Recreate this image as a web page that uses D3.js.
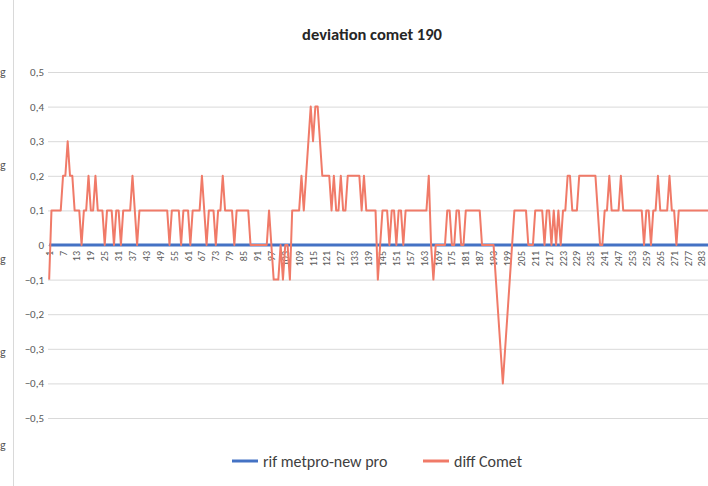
<!DOCTYPE html>
<html>
<head>
<meta charset="utf-8">
<script src="https://cdn.jsdelivr.net/npm/d3@7"></script>
<style>
  body { margin: 0; background: #fff; }
  svg { display: block; font-family: Carlito, Calibri, Lato, "Open Sans", sans-serif; }
</style>
</head>
<body>
<script>
// values
var title = "deviation comet 190";
var seriesNames = ["rif metpro-new pro", "diff Comet"];
var yTicks = [0.5, 0.4, 0.3, 0.2, 0.1, 0, -0.1, -0.2, -0.3, -0.4, -0.5];
var categories = d3.range(1, 287);
var xTickLabels = categories.filter(function(c) { return (c - 1) % 6 === 0; });

var diffComet = [
  -0.1,0.1,0.1,0.1,0.1,0.1,0.2,0.2,0.3,0.2,
  0.2,0.1,0.1,0.1,0,0.1,0.1,0.2,0.1,0.1,
  0.2,0.1,0.1,0.1,0,0.1,0.1,0.1,0,0.1,
  0.1,0,0.1,0.1,0.1,0.1,0.2,0.1,0,0.1,
  0.1,0.1,0.1,0.1,0.1,0.1,0.1,0.1,0.1,0.1,
  0.1,0.1,0,0.1,0.1,0.1,0.1,0,0.1,0.1,
  0.1,0,0.1,0.1,0.1,0.1,0.2,0.1,0,0.1,
  0.1,0.1,0,0.1,0.1,0.2,0.1,0.1,0.1,0.1,
  0,0.1,0.1,0.1,0.1,0.1,0.1,0,0,0,
  0,0,0,0,0,0.1,0,-0.1,-0.1,-0.1,
  0,-0.1,0,0,-0.1,0.1,0.1,0.1,0.1,0.2,
  0.1,0.2,0.3,0.4,0.3,0.4,0.4,0.3,0.2,0.2,
  0.2,0.2,0.1,0.2,0.1,0.1,0.2,0.1,0.1,0.2,
  0.2,0.2,0.2,0.2,0.2,0.1,0.2,0.1,0.1,0.1,
  0.1,0.1,-0.1,0,0.1,0.1,0.1,0,0.1,0.1,
  0,0.1,0.1,0,0.1,0.1,0.1,0.1,0.1,0.1,
  0.1,0.1,0.1,0.1,0.2,0,-0.1,0,0,0,
  0,0,0.1,0.1,0,0,0.1,0.1,0,0,
  0.1,0.1,0.1,0.1,0.1,0.1,0.1,0,0,0,
  0,0,0,-0.1,-0.2,-0.3,-0.4,-0.3,-0.2,-0.1,
  0,0.1,0.1,0.1,0.1,0.1,0.1,0,0,0,
  0.1,0.1,0.1,0.1,0,0.1,0.1,0,0.1,0,
  0.1,0,0.1,0.1,0.2,0.2,0.1,0.1,0.1,0.2,
  0.2,0.2,0.2,0.2,0.2,0.2,0.2,0.1,0,0,
  0.1,0.1,0.2,0.1,0.1,0.1,0.1,0.2,0.1,0.1,
  0.1,0.1,0.1,0.1,0.1,0.1,0.1,0,0.1,0.1,
  0,0.1,0.1,0.2,0.1,0.1,0.1,0.1,0.2,0.1,
  0.1,0,0.1,0.1,0.1,0.1,0.1,0.1,0.1,0.1,
  0.1,0.1,0.1,0.1,0.1,0.1
];
var rifMetpro = categories.map(function() { return 0; });

// leftover labels of the neighbouring chart, cut at the left edge
var sideMarks = ["g", "g", "g", "g", "g"];

var width = 708, height = 486;
var plotLeft = 48, plotRight = 710, plotTop = 72, plotBottom = 418;

var svg = d3.select("body").append("svg")
    .attr("width", width)
    .attr("height", height);

var x = d3.scaleBand()
    .domain(categories)
    .range([plotLeft, plotRight]);

var y = d3.scaleLinear()
    .domain([-0.5, 0.5])
    .range([plotBottom, plotTop]);

function cx(c) { return x(c) + x.bandwidth() / 2; }

// neighbouring chart border + cut labels
svg.append("line")
    .attr("x1", 13.5).attr("x2", 13.5)
    .attr("y1", 0).attr("y2", height)
    .attr("stroke", "#d9d9d9");

var sideScale = d3.scalePoint().domain(d3.range(sideMarks.length)).range([76, 449]);
svg.selectAll(".side")
    .data(sideMarks)
    .enter().append("text")
    .attr("class", "side")
    .attr("x", 0)
    .attr("y", function(d, i) { return sideScale(i); })
    .attr("font-size", 12)
    .attr("fill", "#595959")
    .text(function(d) { return d; });

// title
svg.append("text")
    .attr("x", 372)
    .attr("y", 40)
    .attr("text-anchor", "middle")
    .attr("font-size", 16.5)
    .attr("font-weight", "bold")
    .attr("fill", "#262626")
    .text(title);

// y axis with gridlines
var yAxis = svg.append("g")
    .attr("transform", "translate(" + plotLeft + ",0)")
    .call(d3.axisLeft(y)
        .tickValues(yTicks)
        .tickSize(-(plotRight - plotLeft))
        .tickPadding(4)
        .tickFormat(function(d) { return d3.format("")(Math.round(d * 10) / 10).replace(".", ","); }));
yAxis.select(".domain").remove();
yAxis.selectAll(".tick line").attr("stroke", "#d9d9d9");
yAxis.selectAll(".tick text")
    .attr("font-size", 11)
    .attr("fill", "#595959")
    .attr("font-family", "Carlito, Calibri, Lato, sans-serif");

// x axis at zero, rotated labels
var xAxis = svg.append("g")
    .attr("transform", "translate(0," + y(0) + ")")
    .call(d3.axisBottom(x).tickValues(xTickLabels).tickSize(0));
xAxis.select(".domain").remove();
xAxis.selectAll(".tick text")
    .attr("transform", "rotate(-90)")
    .attr("x", -6)
    .attr("y", 0)
    .attr("dy", "0.35em")
    .attr("text-anchor", "end")
    .attr("font-size", 10)
    .attr("fill", "#595959")
    .attr("font-family", "Carlito, Calibri, Lato, sans-serif");

var line = d3.line()
    .x(function(d, i) { return cx(categories[i]); })
    .y(function(d) { return y(d); });

svg.append("path")
    .datum(rifMetpro)
    .attr("fill", "none")
    .attr("stroke", "#4472c4")
    .attr("stroke-width", 3)
    .attr("d", line);

svg.append("path")
    .datum(diffComet)
    .attr("fill", "none")
    .attr("stroke", "#f07a68")
    .attr("stroke-width", 2)
    .attr("stroke-linejoin", "round")
    .attr("d", line);

// legend
var legendColors = ["#4472c4", "#f07a68"];
var legendX = [232, 423];
var legend = svg.selectAll(".legend")
    .data(seriesNames)
    .enter().append("g")
    .attr("class", "legend")
    .attr("transform", function(d, i) { return "translate(" + legendX[i] + ",461)"; });
legend.append("line")
    .attr("x1", 0).attr("x2", 26)
    .attr("stroke", function(d, i) { return legendColors[i]; })
    .attr("stroke-width", 3);
legend.append("text")
    .attr("x", 31)
    .attr("dy", "0.35em")
    .attr("font-size", 16)
    .attr("fill", "#404040")
    .text(function(d) { return d; });
</script>
</body>
</html>
